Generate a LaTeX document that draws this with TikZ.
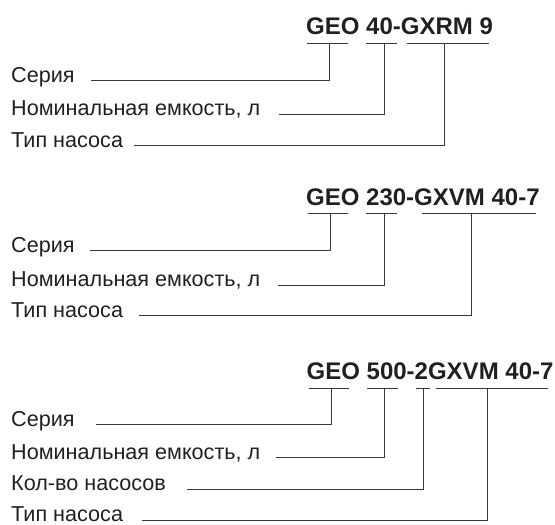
\documentclass[tikz,border=0pt]{standalone}
\usepackage{fontspec}
\setmainfont{Liberation Sans}
\definecolor{ink}{HTML}{231F20}
\definecolor{linec}{HTML}{3A3A3A}
\tikzset{
  lbl/.style={anchor=base west, inner sep=0pt, font=\fontsize{21.6}{25}\selectfont, text=ink},
  ttl/.style={anchor=base west, inner sep=0pt, font=\fontsize{24}{28}\selectfont\bfseries, text=ink},
  lead/.style={draw=linec, line width=1pt},
  uline/.style={draw=linec, line width=1pt},
}
\begin{document}
\begin{tikzpicture}[x=1pt,y=-1pt]
\useasboundingbox (0,0) rectangle (555,525);
% ---------- section 1 ----------
\node[ttl] (t1) at (306,34.3) {GEO 40-GXRM 9};
\node[lbl] (a1) at (11,82) {Серия};
\node[lbl] (b1) at (11,115.5) {Номинальная емкость, л};
\node[lbl] (c1) at (11,147) {Тип насоса};
\coordinate (u1a) at (307.3,43.3); \coordinate (w1a) at (348,43.3);   \coordinate (j1a) at (329.3,43.3);
\coordinate (u1b) at (366,43.3);   \coordinate (w1b) at (397.3,43.3); \coordinate (j1b) at (384,43.3);
\coordinate (u1c) at (406.7,43.3); \coordinate (w1c) at (489.3,43.3); \coordinate (j1c) at (444.3,43.3);
\draw[uline] (u1a) -- (w1a);
\draw[uline] (u1b) -- (w1b);
\draw[uline] (u1c) -- (w1c);
\coordinate (s1a) at (91,80);
\coordinate (s1b) at (279,114);
\coordinate (s1c) at (134,145);
\draw[lead] (s1a) -| (j1a);
\draw[lead] (s1b) -| (j1b);
\draw[lead] (s1c) -| (j1c);
% ---------- section 2 ----------
\node[ttl] (t2) at (306,205) {GEO 230-GXVM 40-7};
\node[lbl] (a2) at (11,252) {Серия};
\node[lbl] (b2) at (11,286) {Номинальная емкость, л};
\node[lbl] (c2) at (11,317) {Тип насоса};
\coordinate (u2a) at (307.7,213.8); \coordinate (w2a) at (348.3,213.8); \coordinate (j2a) at (330,213.8);
\coordinate (u2b) at (366,213.8);   \coordinate (w2b) at (397.3,213.8); \coordinate (j2b) at (384,213.8);
\coordinate (u2c) at (422,213.8);   \coordinate (w2c) at (535.5,213.8); \coordinate (j2c) at (471.7,213.8);
\draw[uline] (u2a) -- (w2a);
\draw[uline] (u2b) -- (w2b);
\draw[uline] (u2c) -- (w2c);
\coordinate (s2a) at (90.4,250);
\coordinate (s2b) at (278.4,285);
\coordinate (s2c) at (139.4,315);
\draw[lead] (s2a) -| (j2a);
\draw[lead] (s2b) -| (j2b);
\draw[lead] (s2c) -| (j2c);
% ---------- section 3 ----------
\node[ttl] (t3) at (306.5,379) {GEO 500-2GXVM 40-7};
\node[lbl] (a3) at (11,426.7) {Серия};
\node[lbl] (b3) at (11,459) {Номинальная емкость, л};
\node[lbl] (d3) at (11,490.7) {Кол-во насосов};
\node[lbl] (c3) at (11,521.7) {Тип насоса};
\coordinate (u3a) at (308.5,388.7); \coordinate (w3a) at (349.3,388.7); \coordinate (j3a) at (331,388.7);
\coordinate (u3b) at (367,388.7);   \coordinate (w3b) at (397.5,388.7); \coordinate (j3b) at (384.5,388.7);
\coordinate (u3d) at (416.2,388.7); \coordinate (w3d) at (429.5,388.7); \coordinate (j3d) at (423,388.7);
\coordinate (u3c) at (435.6,388.7); \coordinate (w3c) at (547.9,388.7); \coordinate (j3c) at (487.7,388.7);
\draw[uline] (u3a) -- (w3a);
\draw[uline] (u3b) -- (w3b);
\draw[uline] (u3d) -- (w3d);
\draw[uline] (u3c) -- (w3c);
\coordinate (s3a) at (95.7,424.3);
\coordinate (s3b) at (275.5,457.6);
\coordinate (s3d) at (186.8,489);
\coordinate (s3c) at (141.8,520.3);
\draw[lead] (s3a) -| (j3a);
\draw[lead] (s3b) -| (j3b);
\draw[lead] (s3d) -| (j3d);
\draw[lead] (s3c) -| (j3c);
\end{tikzpicture}
\end{document}
